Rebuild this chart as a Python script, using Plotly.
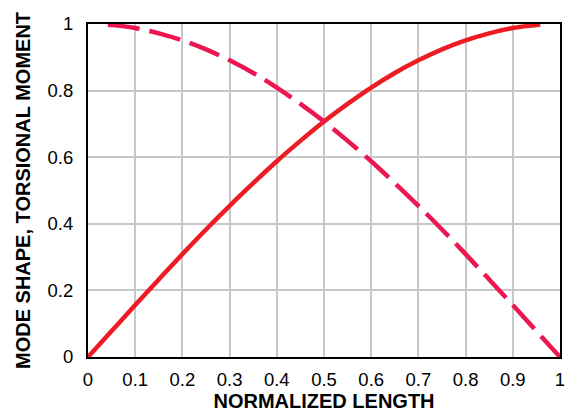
import plotly.graph_objects as go

# Mode shape (solid) and torsional moment (dashed)
x_shape = [0, 0.05, 0.1, 0.15, 0.2, 0.25, 0.3, 0.35, 0.4, 0.45, 0.5,
           0.55, 0.6, 0.65, 0.7, 0.75, 0.8, 0.85, 0.9, 0.95, 0.958]
y_shape = [0, 0.078, 0.156, 0.233, 0.309, 0.383, 0.454, 0.522, 0.588, 0.649, 0.707,
           0.760, 0.809, 0.853, 0.891, 0.924, 0.951, 0.972, 0.988, 0.997, 0.999]

x_moment = [0.042, 0.05, 0.1, 0.15, 0.2, 0.25, 0.3, 0.35, 0.4, 0.45, 0.5,
            0.55, 0.6, 0.65, 0.7, 0.75, 0.8, 0.85, 0.9, 0.95, 1.0]
y_moment = [0.998, 0.997, 0.988, 0.972, 0.951, 0.924, 0.891, 0.853, 0.809, 0.760, 0.707,
            0.649, 0.588, 0.522, 0.454, 0.383, 0.309, 0.233, 0.156, 0.078, 0]

x_ticks = [0, 0.1, 0.2, 0.3, 0.4, 0.5, 0.6, 0.7, 0.8, 0.9, 1]
x_tick_labels = ["0", "0.1", "0.2", "0.3", "0.4", "0.5", "0.6", "0.7", "0.8", "0.9", "1"]
y_ticks = [0, 0.2, 0.4, 0.6, 0.8, 1]
y_tick_labels = ["0", "0.2", "0.4", "0.6", "0.8", "1"]

fig = go.Figure()
fig.add_trace(go.Scatter(x=x_shape, y=y_shape, mode="lines",
                         line=dict(color="#ED1C24", width=4.5, shape="spline"),
                         showlegend=False))
fig.add_trace(go.Scatter(x=x_moment, y=y_moment, mode="lines",
                         line=dict(color="#EC1650", width=4.5, dash="32px,10px", shape="spline"),
                         showlegend=False))

font = "Liberation Sans, Arial, sans-serif"
fig.update_layout(
    width=572, height=414,
    margin=dict(l=88, r=7, t=24, b=57),
    paper_bgcolor="white", plot_bgcolor="white",
    font=dict(family=font, size=18.5, color="black"),
    xaxis=dict(range=[0, 1], tickvals=x_ticks, ticktext=x_tick_labels,
               showgrid=True, gridcolor="#C8C8C8", gridwidth=1.5,
               showline=True, linecolor="black", linewidth=2, mirror=True,
               zeroline=False, ticks="", ticklabelstandoff=5,
               tickfont=dict(size=18.5, family=font),
               title=dict(text="<b>NORMALIZED LENGTH</b>", standoff=2,
                          font=dict(size=20, family=font))),
    yaxis=dict(range=[0, 1], tickvals=y_ticks, ticktext=y_tick_labels,
               showgrid=True, gridcolor="#C8C8C8", gridwidth=1.5,
               showline=True, linecolor="black", linewidth=2, mirror=True,
               zeroline=False, ticks="", ticklabelstandoff=9,
               tickfont=dict(size=18.5, family=font),
               title=dict(text="<b>MODE SHAPE, TORSIONAL MOMENT</b>", standoff=12,
                          font=dict(size=20, family=font))),
)

fig.write_html("out.html")
